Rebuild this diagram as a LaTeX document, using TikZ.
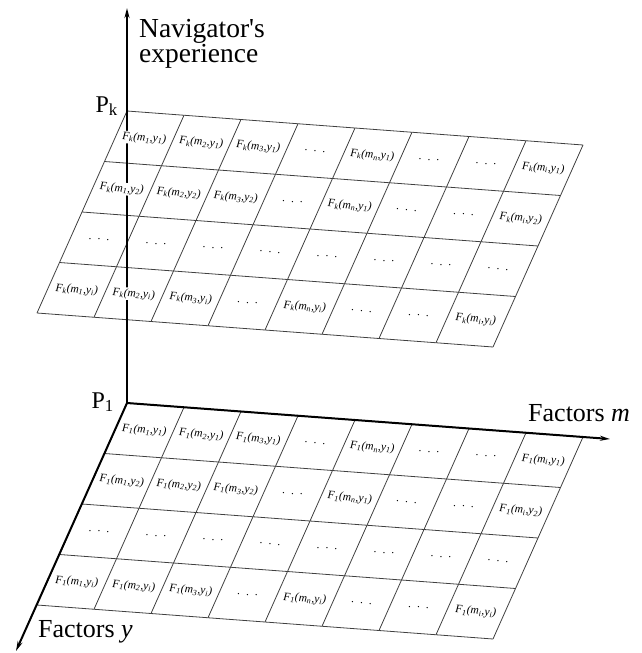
\documentclass[tikz,border=0pt]{standalone}
\usepackage{fontspec}
\setmainfont{Liberation Serif}
\usetikzlibrary{arrows.meta,positioning}

\newcommand{\Fc}[3]{F\textsubscript{#1}(m\textsubscript{#2},y\textsubscript{#3})}
\newcommand{\celldots}{.\hspace{6pt}.\hspace{6pt}.}

\tikzset{
  gridline/.style={draw=black!75,line width=0.8pt},
  axis/.style={line width=2pt,-{Stealth[length=10pt,width=5pt]}},
  cell/.style={fill=white,inner sep=1pt,rotate=-4.3,font=\fontsize{11.5}{11.5}\selectfont\itshape},
  axlabel/.style={inner sep=0pt,font=\fontsize{26}{25}\selectfont},
  plabel/.style={inner sep=0pt,font=\fontsize{24}{24}\selectfont}
}

\begin{document}
\begin{tikzpicture}[x=1pt,y=-1pt]
  \useasboundingbox (0,0) rectangle (641,653);
  \coordinate (P1) at (127,403);
  \coordinate (Pk) at (127,111);
  \coordinate (zend) at (127,8);
  \coordinate (mend) at (610,439);
  \coordinate (yend) at (16,651);
  \foreach \o in {P1,Pk}{
    \begin{scope}[shift={(\o)},x={(57pt,-4.25pt)},y={(-22.5pt,-50.5pt)}]
      \foreach \i in {0,...,8} \draw[gridline] (\i,0) -- (\i,4);
      \foreach \j in {0,...,4} \draw[gridline] (0,\j) -- (8,\j);
    \end{scope}
  }
  \draw[axis] (P1) -- (zend);
  \draw[axis] (P1) -- (mend);
  \draw[axis] (P1) -- (yend);
  \foreach \o/\p in {P1/1,Pk/k}{
    \begin{scope}[shift={(\o)},x={(57pt,-4.25pt)},y={(-22.5pt,-50.5pt)}]
      \foreach \r/\row in {1/{1/1,2/1,3/1,-/-,n/1,-/-,-/-,i/1},
                           2/{1/2,2/2,3/2,-/-,n/1,-/-,-/-,i/2},
                           3/{-/-,-/-,-/-,-/-,-/-,-/-,-/-,-/-},
                           4/{1/i,2/i,3/i,-/-,n/i,-/-,-/-,i/i}}
        \foreach \a/\b [count=\c] in \row
          \node[cell] (F\p\r\c) at (\c-0.5,\r-0.5) {\if\a-\celldots\else\Fc{\p}{\a}{\b}\fi};
    \end{scope}
  }
  \node[axlabel,anchor=north west,align=left,font=\fontsize{27.5}{25}\selectfont] (nav) at (139,19) {Navigator\textquotesingle s\\experience};
  \node[plabel,anchor=base east] (pk) at (118,112) {P\textsubscript{k}};
  \node[plabel,anchor=base east] (p1) at (114,408) {P\textsubscript{1}};
  \node[axlabel,anchor=base west] (fm) at (528,421) {Factors \textit{m}};
  \node[axlabel,anchor=base west] (fy) at (38,637) {Factors \textit{y}};
\end{tikzpicture}
\end{document}
